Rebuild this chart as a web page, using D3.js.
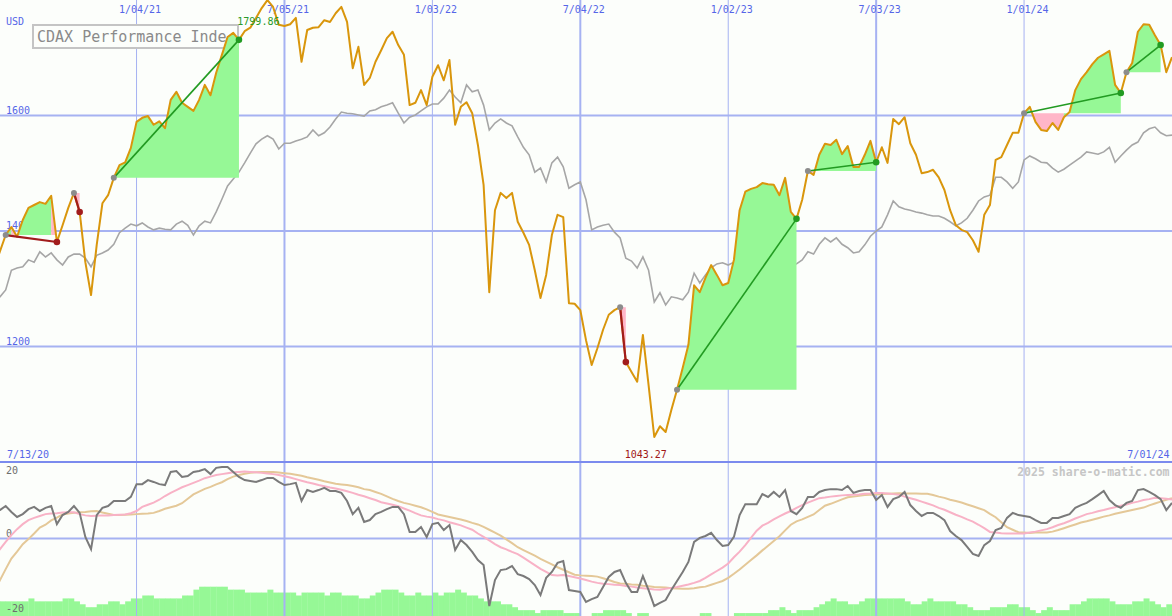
<!DOCTYPE html>
<html><head><meta charset="utf-8">
<script src="https://cdn.jsdelivr.net/npm/d3@7"></script>
<style>
html,body{margin:0;padding:0;background:#fcfefb;overflow:hidden}
svg{display:block}
text{font-family:"DejaVu Sans Mono",monospace}
</style>
</head><body>
<svg id="chart" width="1172" height="616"></svg>
<script>
// ---------------- data ----------------
const startDate = "2020-07-13";   // first weekly point
const endDate = "2024-07-01";     // last weekly point
const titleText = "CDAX Performance Index";
const currency = "USD";

const closes = [1336,1365,1393,1407,1390,1419,1440,1445,1450,1447,
 1461,1381,1410,1440,1466,1433,1346,1289,1376,1448,
 1462,1492,1514,1519,1544,1589,1596,1599,1584,1590,
 1578,1627,1641,1622,1615,1608,1627,1653,1635,1674,
 1705,1736,1743,1731,1746,1752,1769,1786,1799.86,1788,
 1757,1755,1758,1769,1693,1748,1752,1753,1765,1762,
 1777,1788,1762,1682,1719,1653,1665,1693,1713,1734,
 1745,1722,1705,1618,1622,1644,1618,1667,1687,1661,
 1696,1584,1615,1623,1604,1549,1480,1294,1436,1466,
 1457,1466,1416,1397,1376,1332,1284,1324,1393,1428,
 1424,1275,1274,1263,1211,1168,1197,1229,1255,1263,
 1268,1173,1156,1139,1220,1133,1043.27,1062,1052,1090,
 1125,1163,1203,1306,1294,1319,1341,1324,1306,1310,
 1350,1436,1468,1473,1476,1483,1481,1480,1462,1492,
 1433,1421,1454,1504,1497,1532,1551,1549,1558,1533,
 1547,1511,1511,1532,1556,1519,1545,1518,1594,1585,
 1597,1552,1532,1500,1502,1506,1493,1471,1436,1410,
 1402,1398,1384,1364,1428,1445,1523,1528,1549,1570,
 1570,1604,1615,1589,1575,1573,1587,1575,1597,1606,
 1644,1663,1675,1689,1700,1706,1712,1653,1639,1675,
 1691,1745,1758,1757,1739,1722,1675,1701];

const benchmark = [1281,1286,1298,1332,1336,1338,1350,1346,1364,1355,
 1362,1350,1341,1355,1360,1360,1353,1338,1358,1362,
 1367,1377,1397,1405,1412,1409,1414,1407,1402,1405,
 1403,1402,1412,1417,1410,1393,1409,1417,1414,1433,
 1455,1478,1490,1502,1518,1535,1551,1559,1565,1559,
 1542,1552,1552,1556,1559,1563,1575,1565,1570,1580,
 1594,1606,1604,1603,1601,1599,1608,1610,1615,1618,
 1622,1604,1587,1597,1601,1608,1615,1620,1620,1630,
 1644,1632,1622,1653,1641,1644,1618,1575,1587,1594,
 1587,1582,1563,1545,1532,1502,1509,1485,1518,1528,
 1511,1474,1480,1485,1454,1402,1407,1410,1412,1398,
 1388,1353,1348,1336,1355,1332,1277,1293,1272,1286,
 1284,1281,1294,1327,1310,1324,1336,1343,1345,1341,
 1346,1353,1355,1357,1358,1338,1338,1336,1322,1336,
 1339,1343,1350,1364,1360,1377,1388,1381,1388,1377,
 1371,1362,1364,1376,1391,1400,1407,1428,1452,1442,
 1438,1436,1433,1431,1428,1426,1426,1422,1416,1409,
 1414,1422,1436,1452,1459,1462,1493,1493,1485,1474,
 1485,1523,1530,1525,1519,1518,1509,1502,1507,1514,
 1521,1528,1537,1535,1533,1537,1545,1519,1530,1540,
 1549,1554,1570,1577,1580,1570,1565,1566];

const momentum = [8.5,9.1,10.4,8.5,6.9,7.8,9.4,10.1,8.8,9.8,
 10.4,4.6,7.5,8.5,10.4,8.2,0.5,-3.4,7.5,9.8,
 10.4,12.0,12.0,12.0,13.3,17.4,17.4,18.7,18.1,17.4,
 17.1,21.3,21.6,19.7,20.0,21.3,21.6,22.2,20.6,22.6,
 22.9,22.9,21.3,19.7,18.7,18.4,18.1,18.7,19.4,19.4,
 18.1,17.1,17.4,17.8,12.0,15.5,14.9,15.5,16.2,15.2,
 15.2,14.6,12.0,7.8,9.8,5.3,5.9,7.8,8.5,9.4,
 10.1,10.1,7.8,2.1,2.1,3.7,0.5,4.6,5.0,2.7,
 4.3,-3.7,-0.5,-2.1,-4.3,-6.9,-8.5,-21.6,-13.3,-10.1,
 -9.8,-8.8,-11.4,-12.0,-13.0,-14.9,-18.1,-12.6,-10.7,-7.8,
 -7.2,-16.5,-16.8,-17.1,-20.3,-19.4,-18.7,-15.5,-12.3,-10.7,
 -10.1,-14.2,-17.1,-17.1,-12.0,-16.5,-21.6,-20.6,-19.7,-16.5,
 -13.6,-10.7,-7.5,-1.1,0.2,0.8,1.8,-0.5,-2.4,-2.1,
 0.5,7.5,11.0,11.0,11.0,14.2,13.3,14.9,13.3,15.5,
 8.8,7.8,9.8,13.3,13.3,14.9,15.5,15.8,15.8,15.5,
 16.8,14.6,15.2,15.5,15.5,12.3,13.9,10.1,12.6,13.3,
 14.9,10.7,8.8,7.2,8.2,8.2,7.2,5.9,2.4,0.8,
 -0.5,-2.7,-4.9,-5.6,-2.1,-0.8,2.7,3.4,6.6,8.2,
 7.5,7.2,6.9,5.9,5.0,5.0,6.6,6.6,7.2,7.8,
 9.8,10.7,11.4,12.6,13.9,15.2,12.3,10.7,9.8,11.4,
 12.0,15.5,15.8,14.9,13.9,12.6,9.1,11.4];

const maFast = [-5.9,-3.4,-1.1,1.1,3.0,4.6,5.9,6.6,7.2,7.8,
 8.0,8.1,8.3,8.4,8.4,7.8,7.4,7.2,7.3,7.4,
 7.4,7.5,7.6,7.7,8.1,8.8,10.1,10.8,11.5,12.4,
 13.6,14.6,15.5,16.4,17.1,17.8,18.5,19.3,19.8,20.3,
 20.6,20.9,21.2,21.3,21.4,21.3,21.2,21.0,20.8,20.6,
 20.3,19.9,19.5,19.0,18.5,18.0,17.6,17.1,16.7,16.3,
 16.0,15.6,15.1,14.6,14.0,13.5,12.9,12.3,11.6,11.2,
 10.8,10.3,9.6,8.9,8.1,7.4,7.0,6.7,6.2,5.8,
 5.2,4.7,4.2,3.5,2.8,1.6,0.5,-0.6,-1.8,-2.8,
 -3.5,-4.3,-5.0,-6.1,-7.3,-8.5,-9.7,-10.7,-11.7,-11.8,
 -11.7,-12.0,-12.4,-12.8,-13.3,-13.8,-14.2,-14.5,-14.6,-14.8,
 -14.9,-15.2,-15.4,-15.7,-15.9,-16.1,-16.3,-16.4,-16.1,-15.8,
 -15.5,-15.1,-14.7,-14.2,-13.6,-12.6,-11.5,-10.4,-9.3,-8.0,
 -6.0,-4.2,-2.1,0.2,2.5,4.1,5.0,6.1,7.1,8.0,
 8.8,9.8,10.7,11.5,12.2,12.9,13.1,13.4,13.6,13.8,
 13.9,14.0,14.1,14.3,14.4,14.6,14.6,14.4,14.2,14.0,
 13.4,12.9,12.4,11.8,11.2,10.6,9.8,9.2,8.4,7.6,
 6.9,6.1,5.4,4.4,3.3,2.1,1.9,1.7,1.6,1.6,
 1.6,1.6,1.9,2.2,2.6,3.0,3.6,4.3,4.9,5.6,
 6.4,7.1,7.8,8.2,8.7,9.1,9.6,10.0,10.5,10.9,
 11.4,11.8,12.3,12.6,13.0,12.9,12.7,12.5];

const maSlow = [-16.8,-13.3,-9.8,-6.4,-4.2,-1.8,-0.2,1.6,3.5,4.4,
 5.8,6.7,7.7,8.0,8.2,8.4,8.5,8.7,8.8,8.3,
 7.9,7.5,7.5,7.6,7.7,7.8,7.9,8.0,8.2,8.8,
 9.5,10.0,10.5,11.3,12.7,14.1,15.0,15.9,16.5,17.3,
 18.0,19.0,19.8,20.3,20.7,21.0,21.2,21.3,21.3,21.3,
 21.1,20.9,20.7,20.4,20.1,19.6,19.2,18.8,18.3,17.9,
 17.5,17.3,17.1,16.8,16.4,15.8,15.5,14.9,14.3,13.5,
 12.7,12.0,11.4,11.0,10.5,10.0,9.3,8.5,7.7,7.3,
 6.9,6.5,6.1,5.6,5.0,4.5,3.7,2.8,1.9,0.9,
 -0.3,-1.5,-2.8,-3.7,-4.6,-5.5,-6.5,-7.4,-8.3,-9.2,
 -10.0,-10.8,-11.6,-11.8,-11.9,-12.0,-12.2,-12.7,-13.3,-13.9,
 -14.4,-14.5,-14.7,-14.8,-15.1,-15.3,-15.5,-15.6,-15.7,-15.9,
 -16.0,-16.1,-16.1,-15.9,-15.6,-15.4,-14.8,-14.2,-13.6,-12.6,
 -11.3,-9.9,-8.4,-6.9,-5.4,-3.8,-2.3,-0.8,0.7,2.6,
 4.4,5.5,6.1,6.9,7.7,9.1,10.5,11.1,11.8,12.5,
 13.2,13.4,13.7,13.9,14.0,14.1,14.2,14.3,14.4,14.5,
 14.4,14.4,14.4,14.3,14.3,13.9,13.4,13.0,12.4,12.0,
 11.5,10.9,10.3,9.7,9.1,7.9,6.8,5.2,3.6,2.8,
 2.0,1.9,1.8,1.9,1.9,1.9,2.2,2.7,3.3,3.9,
 4.5,5.1,5.5,6.0,6.5,7.0,7.4,7.9,8.3,8.7,
 9.1,9.5,9.9,10.6,11.2,11.8,12.4,12.9];

const volume = [5,5,5,5,5,5,6,5,5,5,
 5,5,6,6,5,4,3,3,4,4,
 5,5,4,5,6,6,7,7,6,6,
 6,6,6,7,7,9,10,10,10,10,
 10,9,9,9,8,8,8,8,9,8,
 8,8,8,7,8,8,8,8,7,8,
 8,7,7,7,6,6,7,8,9,9,
 9,8,7,7,8,7,7,8,7,8,
 8,9,8,7,7,6,5,5,5,4,
 4,3,2,2,2,1,2,2,2,2,
 1,1,1,0,0,1,1,2,2,2,
 2,1,0,1,1,0,0,0,0,0,
 0,0,0,0,1,1,0,0,0,0,
 1,1,1,1,1,1,2,2,3,2,
 1,2,2,2,3,4,5,6,5,5,
 4,4,5,6,6,6,6,6,6,6,
 5,4,4,5,6,5,5,5,5,4,
 4,3,2,2,2,3,3,3,4,4,
 3,3,2,1,2,3,2,2,2,4,
 4,5,6,6,6,6,5,4,4,4,
 5,5,6,5,4,3,4,4];

// trade signals: week index of entry / exit
const signalStart = [2, 14, 21, 110, 120, 143, 181, 199];
const signalEnd   = [11, 15, 43, 111, 141, 155, 198, 205];

const tickLabels = ["1/04/21","7/05/21","1/03/22","7/04/22","1/02/23","7/03/23","1/01/24"];
const priceTicks = [1200, 1400, 1600];
const momentumTicks = [20, 0, -20];

// ---------------- chart ----------------
const W = 1172, H = 616;
const parseISO = d3.utcParse("%Y-%m-%d");
const parseTick = d3.utcParse("%m/%d/%y");
const fmtDate = d3.utcFormat("%-m/%d/%y");
const t0 = parseISO(startDate), t1 = parseISO(endDate);
const dates = d3.utcMonday.range(t0, d3.utcDay.offset(t1, 1));

const x = d3.scaleUtc().domain([d3.utcDay.offset(t0, 7), t1]).range([0, W]);
const y = d3.scaleLinear().domain([1000, 1800]).range([462, 0]);
const ym = d3.scaleLinear().domain([-20, 20]).range([601, 476]);
const yv = d3.scaleLinear().domain([0, 10]).range([H, H - 29.3]);

const C = {
  bg: "#fcfefb", grid: "#a6b2f2", gridDark: "#7b8bee", axisText: "#5566e8",
  orange: "#d9960c", gray: "#a6a6a6", green: "#96f896", pink: "#ffb6c8",
  sigGreen: "#229b22", sigRed: "#a11c1c", mom: "#7a7a7a", maFast: "#f8b2c6",
  maSlow: "#e4c898"
};

const svg = d3.select("#chart");
svg.append("rect").attr("width", W).attr("height", H).attr("fill", C.bg);

const pts = dates.map((d, i) => ({d, i, c: closes[i], b: benchmark[i], m: momentum[i],
  f: maFast[i], s: maSlow[i], v: volume[i]}));

// --- volume bars (bottom) ---
const step = x(dates[1]) - x(dates[0]);
svg.append("g").selectAll("rect").data(pts).join("rect")
  .attr("x", p => x(p.d)).attr("width", step + 0.3)
  .attr("y", p => yv(p.v)).attr("height", p => H - yv(p.v))
  .attr("fill", C.green);

// --- grid ---
const grid = svg.append("g");
const tickDates = tickLabels.map(parseTick);
tickDates.forEach((td, k) => {
  const major = td.getUTCMonth() === 6;
  grid.append("line").attr("x1", x(td)).attr("x2", x(td)).attr("y1", 0).attr("y2", H)
    .attr("stroke", C.grid).attr("stroke-width", major ? 2 : 1);
});
priceTicks.forEach(v => {
  grid.append("line").attr("x1", 0).attr("x2", W).attr("y1", y(v)).attr("y2", y(v))
    .attr("stroke", C.grid).attr("stroke-width", 2);
});
grid.append("line").attr("x1", 0).attr("x2", W).attr("y1", ym(0)).attr("y2", ym(0))
  .attr("stroke", C.grid).attr("stroke-width", 2);
grid.append("line").attr("x1", 0).attr("x2", W).attr("y1", y(1000)).attr("y2", y(1000))
  .attr("stroke", C.gridDark).attr("stroke-width", 2);

// --- axis text ---
const txt = svg.append("g").attr("font-size", 10).attr("fill", C.axisText);
tickDates.forEach((td, k) => {
  txt.append("text").attr("x", x(td) + 3.5).attr("y", 13).attr("text-anchor", "middle").text(tickLabels[k]);
});
txt.append("text").attr("x", 6).attr("y", 25).text(currency);
priceTicks.forEach(v => {
  txt.append("text").attr("x", 6).attr("y", y(v) - 2).text(v);
});
txt.append("text").attr("x", 7).attr("y", 458).text(fmtDate(dates[0]));
txt.append("text").attr("x", 1169.5).attr("y", 458).attr("text-anchor", "end").text(fmtDate(dates[dates.length - 1]));

const mtxt = svg.append("g").attr("font-size", 10).attr("fill", "#6e6e6e");
momentumTicks.forEach(v => {
  const yy = v === -20 ? ym(v) + 10.7 : ym(v) - 1.8;
  mtxt.append("text").attr("x", 6).attr("y", yy).text(v);
});
svg.append("text").attr("x", 1169.5).attr("y", 475.5).attr("text-anchor", "end")
  .attr("font-size", 11.5).attr("font-weight", "bold").attr("fill", "#c6c6c6")
  .text("2025 share-o-matic.com");

// --- benchmark line ---
svg.append("path").datum(pts)
  .attr("d", d3.line().x(p => x(p.d)).y(p => y(p.b)))
  .attr("fill", "none").attr("stroke", C.gray).attr("stroke-width", 1.6);

// --- title box ---
svg.append("defs").append("clipPath").attr("id", "tclip")
  .append("rect").attr("x", 33).attr("y", 20).attr("width", 193).attr("height", 30);
svg.append("rect").attr("x", 33).attr("y", 25).attr("width", 205).attr("height", 23)
  .attr("fill", C.bg).attr("stroke", "#c4c4c4").attr("stroke-width", 2);
svg.append("text").attr("x", 37).attr("y", 41.7).attr("font-size", 15).attr("fill", "#8a8a8a")
  .attr("clip-path", "url(#tclip)").text(titleText);

// --- signal fills ---
const fills = svg.append("g");
signalStart.forEach((s, k) => {
  const e = signalEnd[k];
  const base = closes[s];
  // group consecutive weekly intervals of equal colour
  let runStart = s, runColor = null;
  for (let j = s; j < e; j++) {
    const col = closes[j + 1] >= base ? C.green : C.pink;
    if (runColor === null) runColor = col;
    if (col !== runColor) {
      drawRun(runStart, j, runColor, base);
      runStart = j; runColor = col;
    }
  }
  drawRun(runStart, e, runColor, base);
});
function drawRun(a, b, col, base) {
  const seg = pts.slice(a, b + 1);
  fills.append("path").datum(seg)
    .attr("d", d3.area().x(p => x(p.d)).y0(y(base)).y1(p => y(p.c)))
    .attr("fill", col);
}

// --- price line ---
svg.append("path").datum(pts)
  .attr("d", d3.line().x(p => x(p.d)).y(p => y(p.c)))
  .attr("fill", "none").attr("stroke", C.orange).attr("stroke-width", 2).attr("stroke-linejoin", "round");

// --- signal lines & dots ---
const sig = svg.append("g");
signalStart.forEach((s, k) => {
  const e = signalEnd[k];
  const win = closes[e] >= closes[s];
  const col = win ? C.sigGreen : C.sigRed;
  sig.append("line").attr("x1", x(dates[s])).attr("y1", y(closes[s]))
    .attr("x2", x(dates[e])).attr("y2", y(closes[e]))
    .attr("stroke", col).attr("stroke-width", win ? 1.6 : 2.2);
  sig.append("circle").attr("cx", x(dates[s])).attr("cy", y(closes[s])).attr("r", 3).attr("fill", "#8c8c8c");
  sig.append("circle").attr("cx", x(dates[e])).attr("cy", y(closes[e])).attr("r", 3.3).attr("fill", col);
});

// --- extremes ---
const iMax = d3.maxIndex(closes), iMin = d3.minIndex(closes);
svg.append("text").attr("x", x(dates[iMax]) - 9).attr("y", 25).attr("text-anchor", "middle")
  .attr("font-size", 10).attr("fill", "#2a9a2a").text(d3.format(".2f")(closes[iMax]));
svg.append("text").attr("x", x(dates[iMin]) - 8.5).attr("y", 458).attr("text-anchor", "middle")
  .attr("font-size", 10).attr("fill", "#a01818").text(d3.format(".2f")(closes[iMin]));

// --- momentum panel lines ---
const mline = key => d3.line().x(p => x(p.d)).y(p => ym(p[key]));
svg.append("path").datum(pts).attr("d", mline("s")).attr("fill", "none").attr("stroke", C.maSlow).attr("stroke-width", 2);
svg.append("path").datum(pts).attr("d", mline("f")).attr("fill", "none").attr("stroke", C.maFast).attr("stroke-width", 2);
svg.append("path").datum(pts).attr("d", mline("m")).attr("fill", "none").attr("stroke", C.mom).attr("stroke-width", 2);
</script>
</body></html>
